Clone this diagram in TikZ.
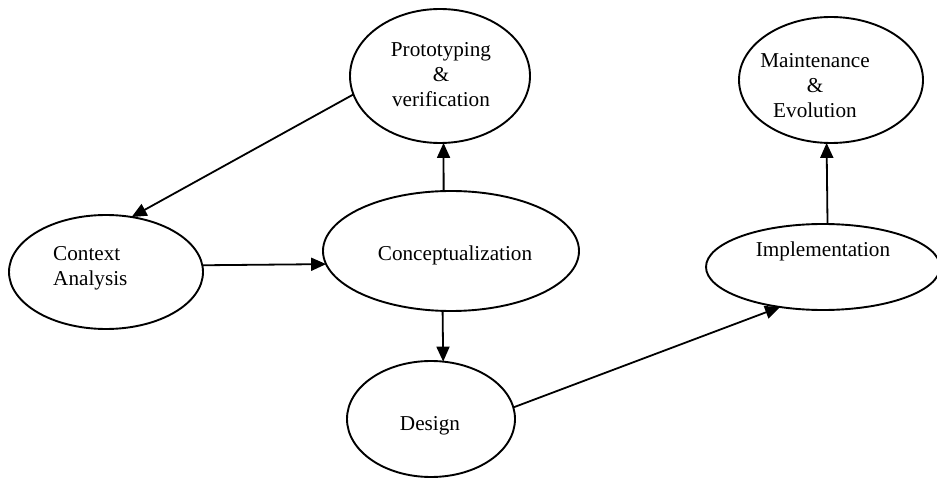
\documentclass[tikz,border=0pt]{standalone}
\usepackage{fontspec}
\setmainfont{Liberation Serif}
\usetikzlibrary{shapes.geometric,arrows.meta}
\tikzset{
  stage/.style={ellipse, draw=black, line width=1.9pt, inner sep=0pt, outer sep=0pt},
  lbl/.style={inner sep=0pt, font=\fontsize{21.2}{25}\selectfont, align=center},
  arr/.style={line width=1.8pt, -{Triangle[length=15pt,width=13pt]}}
}
\begin{document}
\begin{tikzpicture}[x=1pt, y=-1pt]
  \useasboundingbox (0,0) rectangle (937,478);

  % process stages
  \node[stage, minimum width=180pt, minimum height=134pt] (proto)   at (440,76)  {};
  \node[stage, minimum width=184pt, minimum height=126pt] (maint)   at (831,80)  {};
  \node[stage, minimum width=194pt, minimum height=114pt] (ctx)     at (106,272) {};
  \node[stage, minimum width=256pt, minimum height=120pt] (concept) at (451,251) {};
  \node[stage, minimum width=234pt, minimum height=86pt]  (impl)    at (823,267) {};
  \node[stage, minimum width=168pt, minimum height=116pt] (design)  at (431,419) {};

  % stage captions (base anchor sits on the last line)
  \node[lbl, anchor=base] (protoT) at (441,107) {Prototyping\\\&\\verification};
  \node[lbl, anchor=base] (maintT) at (815,118) {Maintenance\\\&\\Evolution};
  \node[lbl, align=left, anchor=base west] (ctxT) at (53,286) {Context\\Analysis};
  \node[lbl, anchor=base] (conceptT) at (455,261) {Conceptualization};
  \node[lbl, anchor=base] (implT) at (823,257) {Implementation};
  \node[lbl, anchor=base] (designT) at (430,430) {Design};

  % flow between stages
  \draw[arr] (proto.192.6) -- (ctx.65.5);
  \draw[arr] (ctx.4.8) -- (concept.186);
  \draw[arr] (concept.97.6) -- (proto.-87.4);
  \draw[arr] (concept.262.4) -- (design.78.3);
  \draw[arr] (design.8.1) -- (impl.223.1);
  \draw[arr] (impl.84.7) -- (maint.266.4);
\end{tikzpicture}
\end{document}
